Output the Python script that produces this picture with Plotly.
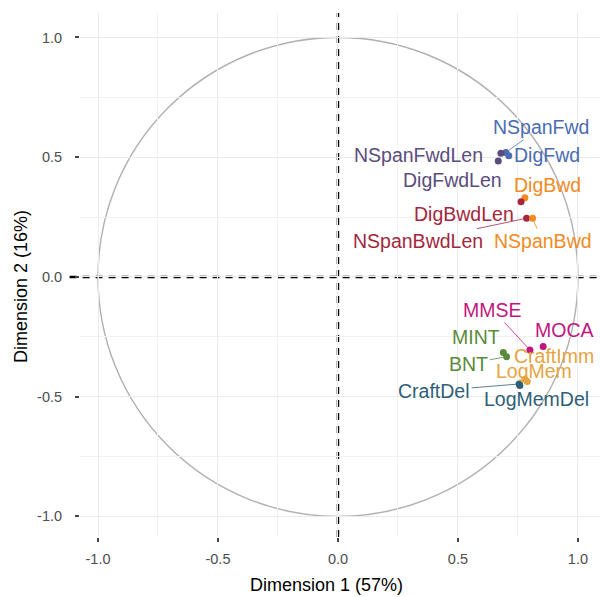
import plotly.graph_objects as go

# ---- data ----
variables = ["NSpanFwd", "DigFwd", "NSpanFwdLen", "DigFwdLen", "DigBwd", "DigBwdLen",
             "NSpanBwdLen", "NSpanBwd", "MMSE", "MOCA", "MINT", "BNT",
             "CraftImm", "LogMem", "CraftDel", "LogMemDel"]
dim1 = [0.700, 0.712, 0.679, 0.668, 0.779, 0.763, 0.786, 0.811,
        0.800, 0.855, 0.689, 0.703, 0.779, 0.789, 0.755, 0.758]
dim2 = [0.520, 0.506, 0.516, 0.484, 0.331, 0.314, 0.245, 0.245,
        -0.305, -0.291, -0.316, -0.333, -0.427, -0.437, -0.447, -0.453]
groups = ["fwd", "fwd", "fwdlen", "fwdlen", "bwd", "bwdlen", "bwdlen", "bwd",
          "screen", "screen", "lang", "lang", "imm", "imm", "del", "del"]
x_ticks = [-1.0, -0.5, 0.0, 0.5, 1.0]
y_ticks = [-1.0, -0.5, 0.0, 0.5, 1.0]
x_title = "Dimension 1 (57%)"
y_title = "Dimension 2 (16%)"

# ---- styles ----
group_colors = {
    "fwd": "#4a6db2",
    "fwdlen": "#5a4d7c",
    "bwd": "#f18b1f",
    "bwdlen": "#a3283d",
    "screen": "#c2167e",
    "lang": "#5a8b3b",
    "imm": "#e6a442",
    "del": "#2f5f78",
}
# label offsets (pixels, label centre relative to point) and whether a segment is drawn
label_dx = [35, 38, -82, -46, 23, -57, -109, 10, -37, 21, -27, -38, 29, 7, -85, 17]
label_dy = [-25, -1, 2, 19, -13, 12, 23, 23, -40, -17, -16, 7, -23, -11, 7, 14]
segment = [True, False, False, False, False, False, True, True,
           True, False, False, True, False, False, True, False]

FONT = "Liberation Sans, Arial, Helvetica, sans-serif"
colors = [group_colors[g] for g in groups]

fig = go.Figure()
fig.add_trace(go.Scatter(
    x=dim1, y=dim2, mode="markers",
    marker=dict(size=7, color=colors, line=dict(width=0)),
    hovertext=variables, showlegend=False,
))

# correlation circle
fig.add_shape(type="circle", xref="x", yref="y", x0=-1, y0=-1, x1=1, y1=1,
              line=dict(color="#b0b0b0", width=1.4), layer="below")
# dashed reference lines
fig.add_shape(type="line", xref="x", yref="paper", x0=0, x1=0, y0=0, y1=1,
              line=dict(color="black", width=2.5, dash="7px,6px"), layer="below")
fig.add_shape(type="line", xref="paper", yref="y", x0=-0.02, x1=1, y0=0, y1=0,
              line=dict(color="black", width=2.5, dash="7px,6px"), layer="below")

for name, xv, yv, c, dx, dy, seg in zip(variables, dim1, dim2, colors, label_dx, label_dy, segment):
    fig.add_annotation(
        x=xv, y=yv, xref="x", yref="y", text=name,
        showarrow=True, ax=dx, ay=dy, arrowhead=0, arrowwidth=0.8,
        arrowcolor=c if seg else "rgba(0,0,0,0)", standoff=3,
        font=dict(family=FONT, size=19.5, color=c),
    )

# axis titles
fig.add_annotation(xref="paper", yref="paper", x=(326 - 80) / 520, y=-48 / 524,
                   text=x_title, showarrow=False, xanchor="center", yanchor="middle",
                   font=dict(family=FONT, size=18, color="black"))
fig.add_annotation(xref="paper", yref="paper", x=-59 / 520, y=(537 - 287) / 524,
                   text=y_title, showarrow=False, textangle=-90, xanchor="center",
                   yanchor="middle", font=dict(family=FONT, size=18, color="black"))

axis_common = dict(
    showline=False, zeroline=False, showgrid=True, gridcolor="#ebebeb", gridwidth=1,
    ticks="outside", ticklen=4, tickwidth=1.5, tickcolor="#444444",
    tickfont=dict(family=FONT, size=14.5, color="#4d4d4d"),
    minor=dict(dtick=0.25, showgrid=True, gridcolor="#f1f1f1", gridwidth=1, ticks=""),
)
fig.update_xaxes(range=[-1.075, 1.092], tickvals=x_ticks,
                 ticktext=[f"{v:.1f}" for v in x_ticks], ticklabelstandoff=5, **axis_common)
fig.update_yaxes(range=[-1.086, 1.102], tickvals=y_ticks,
                 ticktext=[f"{v:.1f}" for v in y_ticks], ticklabelstandoff=10, **axis_common)

fig.update_layout(
    width=600, height=597,
    margin=dict(l=80, r=0, t=13, b=60),
    plot_bgcolor="white", paper_bgcolor="white",
    font=dict(family=FONT),
    showlegend=False,
)
fig.write_html("out.html", config={"displayModeBar": False},
               post_script="document.body.style.margin='0px';document.body.style.overflow='hidden';")
